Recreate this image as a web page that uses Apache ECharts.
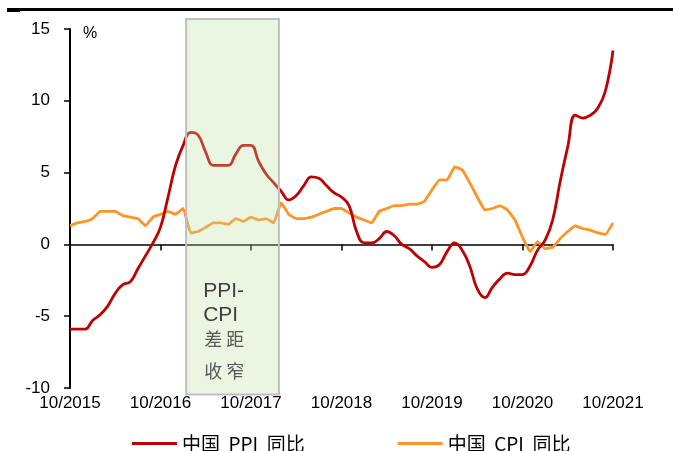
<!DOCTYPE html>
<html>
<head>
<meta charset="utf-8">
<script src="https://cdn.jsdelivr.net/npm/echarts@6/dist/echarts.min.js"></script>
<style>
  html,body{margin:0;padding:0;background:#fff;}
  #main{width:673px;height:451px;}
</style>
</head>
<body>
<div id="main"></div>
<script>
  // 月度数据：2015年10月 - 2021年10月
  var ppi = [
    -5.9, -5.9, -5.9,
    -5.3, -4.9, -4.3, -3.4, -2.8, -2.6, -1.7, -0.8, 0.1, 1.2, 3.3, 5.5,
    6.9, 7.8, 7.6, 6.4, 5.5, 5.5, 5.5, 6.3, 6.9, 6.9, 5.8, 4.9,
    4.3, 3.7, 3.1, 3.4, 4.1, 4.7, 4.6, 4.1, 3.6, 3.3, 2.7, 0.9,
    0.1, 0.1, 0.4, 0.9, 0.6, 0.0, -0.3, -0.8, -1.2, -1.6, -1.4, -0.5,
    0.1, -0.4, -1.5, -3.1, -3.7, -3.0, -2.4, -2.0, -2.1, -2.1, -1.5, -0.4,
    0.3, 1.7, 4.4, 6.8, 9.0, 8.8, 9.0, 9.5, 10.7, 13.5
  ];
  var cpi = [
    1.3, 1.5, 1.6,
    1.8, 2.3, 2.3, 2.3, 2.0, 1.9, 1.8, 1.3, 1.9, 2.1, 2.3, 2.1,
    2.5, 0.8, 0.9, 1.2, 1.5, 1.5, 1.4, 1.8, 1.6, 1.9, 1.7, 1.8,
    1.5, 2.9, 2.1, 1.8, 1.8, 1.9, 2.1, 2.3, 2.5, 2.5, 2.2, 1.9,
    1.7, 1.5, 2.3, 2.5, 2.7, 2.7, 2.8, 2.8, 3.0, 3.8, 4.5, 4.5,
    5.4, 5.2, 4.3, 3.3, 2.4, 2.5, 2.7, 2.4, 1.7, 0.5, -0.5, 0.2,
    -0.3, -0.2, 0.4, 0.9, 1.3, 1.1, 1.0, 0.8, 0.7, 1.5
  ];
  var months = [];
  for (var i = 0; i < ppi.length; i++) {
    var m = (9 + i) % 12 + 1;
    var y = 2015 + Math.floor((9 + i) / 12);
    months.push(m + '/' + y);
  }
  var yTicks = [-10, -5, 0, 5, 10, 15];
  var seriesNames = ['中国  PPI  同比', '中国  CPI  同比'];
  // 阴影区间（月份序号）
  var shadeFrom = 15.4, shadeTo = 27.7;

  var myChart = echarts.init(document.getElementById('main'));
  var option = {
    animation: false,
    grid: {left: 70, right: 60, top: 29, bottom: 63},
    legend: {
      left: 127,
      top: 429,
      itemWidth: 45,
      itemHeight: 3,
      itemGap: 93,
      icon: 'rect',
      textStyle: {fontSize: 19, color: '#000', fontFamily: 'Noto Sans CJK SC'},
      data: seriesNames
    },
    xAxis: [
      {
        type: 'category',
        data: months,
        boundaryGap: false,
        axisLine: {onZero: true, lineStyle: {color: '#000', width: 1.5}},
        axisTick: {show: true, interval: 11, length: 6, lineStyle: {color: '#000', width: 1.5}},
        axisLabel: {show: false},
        splitLine: {show: false}
      },
      {
        type: 'category',
        data: months,
        boundaryGap: false,
        position: 'bottom',
        axisLine: {show: false, onZero: false},
        axisTick: {show: false},
        axisLabel: {interval: 11, margin: 7, fontSize: 17, color: '#000', fontFamily: 'Liberation Sans'},
        splitLine: {show: false}
      }
    ],
    yAxis: {
      type: 'value',
      min: yTicks[0],
      max: yTicks[yTicks.length - 1],
      interval: 5,
      axisLine: {show: true, lineStyle: {color: '#000', width: 2}},
      axisTick: {show: true, length: 6, lineStyle: {color: '#000', width: 1.5}},
      axisLabel: {fontSize: 17, color: '#000', margin: 20, fontFamily: 'Liberation Sans'},
      splitLine: {show: false}
    },
    series: [
      {
        name: seriesNames[0],
        type: 'line',
        data: ppi,
        smooth: 0.45,
        showSymbol: false,
        lineStyle: {color: '#C00000', width: 2.8},
        itemStyle: {color: '#C00000'},
        z: 3
      },
      {
        name: seriesNames[1],
        type: 'line',
        data: cpi,
        smooth: 0.1,
        showSymbol: false,
        lineStyle: {color: '#FF9426', width: 2.8},
        itemStyle: {color: '#FF9426'},
        z: 2
      }
    ]
  };
  myChart.setOption(option);

  // 用坐标换算画阴影区和注释
  var x0 = myChart.convertToPixel({xAxisIndex: 0}, months[0]);
  var x1 = myChart.convertToPixel({xAxisIndex: 0}, months[months.length - 1]);
  var step = (x1 - x0) / (months.length - 1);
  var sx0 = x0 + shadeFrom * step;
  var sx1 = x0 + shadeTo * step;
  var sy0 = myChart.convertToPixel({yAxisIndex: 0}, 15.7);
  var sy1 = myChart.convertToPixel({yAxisIndex: 0}, -10.45);
  var tx = sx0 + 17;

  myChart.setOption({
    graphic: [
      {type: 'line', shape: {x1: 7, y1: 9.5, x2: 673, y2: 9.5}, style: {stroke: '#000', lineWidth: 3}},
      {type: 'line', shape: {x1: 7, y1: 11, x2: 20, y2: 11}, style: {stroke: '#000', lineWidth: 2}},
      {
        type: 'rect', z: 100,
        shape: {x: sx0, y: sy0, width: sx1 - sx0, height: sy1 - sy0},
        style: {fill: 'rgba(190,225,160,0.3)', stroke: '#BFBFBF', lineWidth: 2}
      },
      {type: 'text', z: 101, left: 83, top: 26, style: {text: '%', fontSize: 16, fill: '#000', fontFamily: 'Liberation Sans'}},
      {type: 'text', z: 101, x: tx, y: 281, style: {text: 'PPI-', fontSize: 21, fill: '#404040', fontFamily: 'Liberation Sans'}},
      {type: 'text', z: 101, x: tx, y: 305, style: {text: 'CPI', fontSize: 21, fill: '#404040', fontFamily: 'Liberation Sans'}},
      {type: 'text', z: 101, x: tx + 1, y: 330, style: {text: '差 距', fontSize: 18, fill: '#595959', fontFamily: 'Noto Sans CJK SC'}},
      {type: 'text', z: 101, x: tx + 1, y: 362, style: {text: '收 窄', fontSize: 18, fill: '#595959', fontFamily: 'Noto Sans CJK SC'}}
    ]
  });
</script>
</body>
</html>
